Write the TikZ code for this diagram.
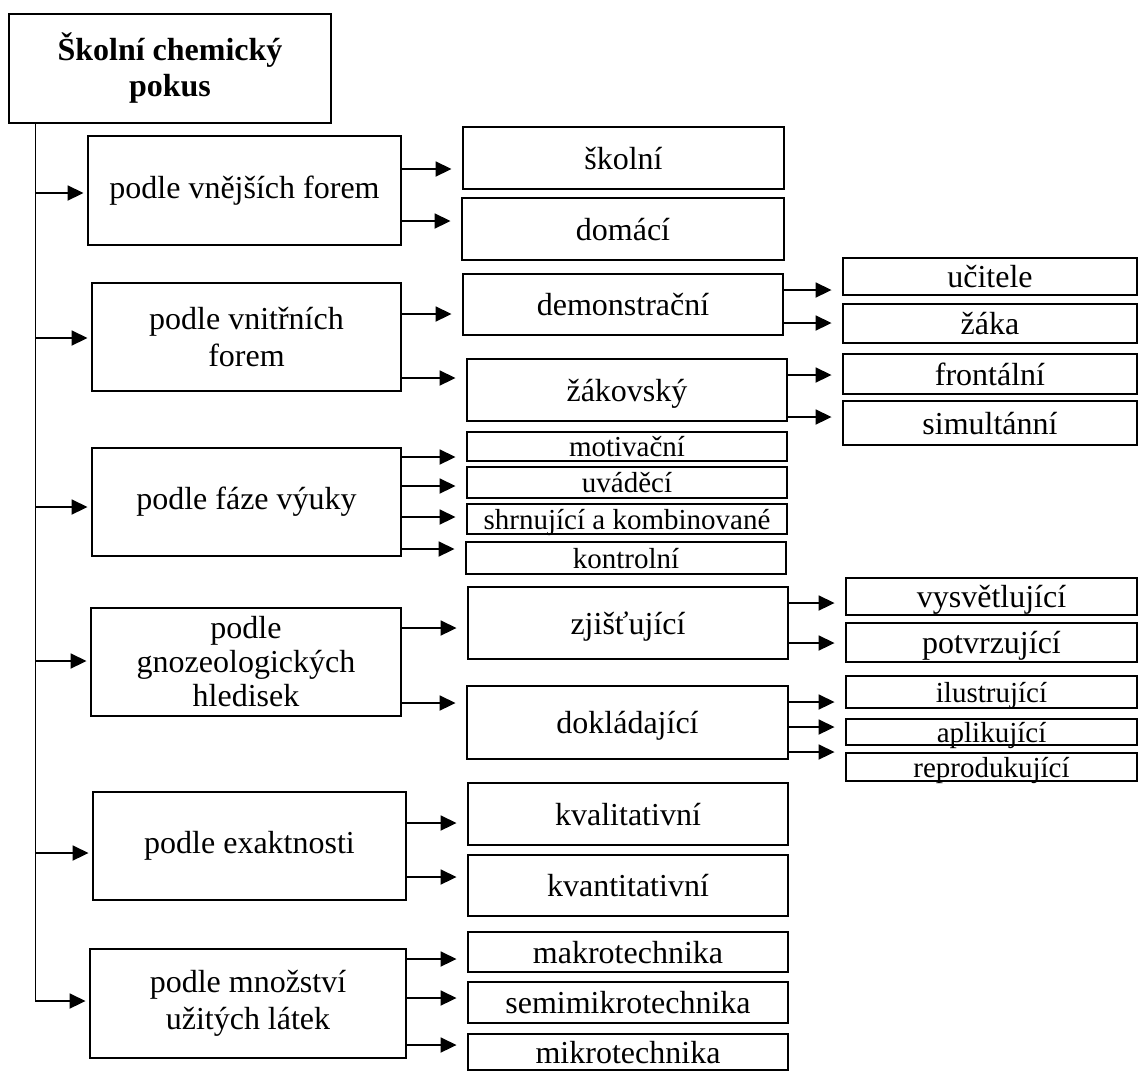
\documentclass[tikz,border=0pt]{standalone}
\usepackage{fontspec}
\setmainfont{Liberation Serif}
\usetikzlibrary{arrows.meta}

\begin{document}
\begin{tikzpicture}[
    x=1pt, y=-1pt,
    box/.style={draw, line width=2.9pt, inner sep=0pt, align=center, font=\fontsize{32}{37}\selectfont},
    leaf/.style={box, text height=22pt, text depth=0pt},
    small/.style={leaf, text height=20pt, font=\fontsize{29}{34}\selectfont},
    link/.style={line width=1.8pt},
    arr/.style={link, -{Triangle[length=16pt,width=15pt]}, shorten >=10pt}
  ]
    \useasboundingbox (0,0) rectangle (1139,1072);

    % root and first level
    \node[box, font=\fontsize{32}{36}\selectfont\bfseries, minimum width=322pt, minimum height=109pt] (root) at (170,68.5) {Školní chemický\\pokus};
    \node[box, minimum width=313pt, minimum height=109pt] (vnejsi) at (244.5,190.5) {podle vnějších forem};
    \node[box, minimum width=309pt, minimum height=108pt] (vnitrni) at (246.5,337) {podle vnitřních\\forem};
    \node[box, minimum width=309pt, minimum height=108pt] (faze) at (246.5,502) {podle fáze výuky};
    \node[box, font=\fontsize{32}{34}\selectfont, minimum width=310pt, minimum height=108pt] (gnoz) at (246,662) {podle\\gnozeologických\\hledisek};
    \node[box, minimum width=313pt, minimum height=108pt] (exakt) at (249.5,846) {podle exaktnosti};
    \node[box, minimum width=316pt, minimum height=109pt] (mnozstvi) at (248,1003.5) {podle množství\\užitých látek};

    % second level
    \node[leaf, minimum width=321pt, minimum height=62pt] (skolni) at (623.5,158) {školní};
    \node[leaf, minimum width=322pt, minimum height=62pt] (domaci) at (623,229) {domácí};
    \node[leaf, minimum width=320pt, minimum height=61pt] (demo) at (623,304.5) {demonstrační};
    \node[leaf, minimum width=320pt, minimum height=62pt] (zakovsky) at (627,390) {žákovský};
    \node[small, minimum width=320pt, minimum height=29pt] (motiv) at (627,446.5) {motivační};
    \node[small, minimum width=320pt, minimum height=31pt] (uvadeci) at (627,482.5) {uváděcí};
    \node[small, minimum width=320pt, minimum height=30pt] (shrn) at (627,519) {shrnující a kombinované};
    \node[small, minimum width=320pt, minimum height=32pt] (kontrol) at (626,558) {kontrolní};
    \node[leaf, minimum width=320pt, minimum height=72pt] (zjist) at (628,623) {zjišťující};
    \node[leaf, minimum width=321pt, minimum height=73pt] (doklad) at (627.5,722.5) {dokládající};
    \node[leaf, minimum width=320pt, minimum height=62pt] (kval) at (628,814) {kvalitativní};
    \node[leaf, minimum width=320pt, minimum height=61pt] (kvant) at (628,885.5) {kvantitativní};
    \node[leaf, minimum width=320pt, minimum height=40pt] (makro) at (628,952) {makrotechnika};
    \node[leaf, minimum width=320pt, minimum height=41pt] (semi) at (628,1002.5) {semimikrotechnika};
    \node[leaf, minimum width=320pt, minimum height=36pt] (mikro) at (628,1052) {mikrotechnika};

    % third level
    \node[leaf, minimum width=294pt, minimum height=37pt] (ucitel) at (990,276.5) {učitele};
    \node[leaf, minimum width=294pt, minimum height=39pt] (zak) at (990,323.5) {žáka};
    \node[leaf, minimum width=294pt, minimum height=40pt] (front) at (990,374) {frontální};
    \node[leaf, minimum width=294pt, minimum height=44pt] (simult) at (990,423) {simultánní};
    \node[leaf, minimum width=291pt, minimum height=37pt] (vysv) at (991.5,596.5) {vysvětlující};
    \node[leaf, minimum width=291pt, minimum height=39pt] (potvrz) at (991.5,642.5) {potvrzující};
    \node[small, minimum width=291pt, minimum height=32pt] (ilustr) at (991.5,692) {ilustrující};
    \node[small, minimum width=291pt, minimum height=26pt] (aplik) at (991.5,732) {aplikující};
    \node[small, minimum width=291pt, minimum height=28pt] (reprod) at (991.5,767) {reprodukující};

    % trunk
    \coordinate (trunk) at ([xshift=28pt]root.south west);
    \draw[arr, shorten >=3pt] (trunk) |- (mnozstvi.west |- 0,1001);
    \draw[arr, shorten >=3pt] (trunk |- 0,193) -- (vnejsi.west |- 0,193);
    \draw[arr, shorten >=3pt] (trunk |- 0,338) -- (vnitrni.west |- 0,338);
    \draw[arr, shorten >=3pt] (trunk |- 0,507) -- (faze.west |- 0,507);
    \draw[arr, shorten >=3pt] (trunk |- 0,661) -- (gnoz.west |- 0,661);
    \draw[arr, shorten >=3pt] (trunk |- 0,853) -- (exakt.west |- 0,853);

    % first to second level
    \draw[arr] (vnejsi.east |- 0,169) -- (skolni.west |- 0,169);
    \draw[arr] (vnejsi.east |- 0,221) -- (domaci.west |- 0,221);
    \draw[arr] (vnitrni.east |- 0,314) -- (demo.west |- 0,314);
    \draw[arr] (vnitrni.east |- 0,378) -- (zakovsky.west |- 0,378);
    \draw[arr] (faze.east |- 0,457) -- (motiv.west |- 0,457);
    \draw[arr] (faze.east |- 0,486) -- (uvadeci.west |- 0,486);
    \draw[arr] (faze.east |- 0,517) -- (shrn.west |- 0,517);
    \draw[arr] (faze.east |- 0,549) -- (kontrol.west |- 0,549);
    \draw[arr] (gnoz.east |- 0,628) -- (zjist.west |- 0,628);
    \draw[arr] (gnoz.east |- 0,703) -- (doklad.west |- 0,703);
    \draw[arr] (exakt.east |- 0,823) -- (kval.west |- 0,823);
    \draw[arr] (exakt.east |- 0,877) -- (kvant.west |- 0,877);
    \draw[arr] (mnozstvi.east |- 0,959) -- (makro.west |- 0,959);
    \draw[arr] (mnozstvi.east |- 0,998) -- (semi.west |- 0,998);
    \draw[arr] (mnozstvi.east |- 0,1045) -- (mikro.west |- 0,1045);

    % second to third level
    \draw[arr] (demo.east |- 0,290) -- (ucitel.west |- 0,290);
    \draw[arr] (demo.east |- 0,323) -- (zak.west |- 0,323);
    \draw[arr] (zakovsky.east |- 0,375) -- (front.west |- 0,375);
    \draw[arr] (zakovsky.east |- 0,417) -- (simult.west |- 0,417);
    \draw[arr] (zjist.east |- 0,603) -- (vysv.west |- 0,603);
    \draw[arr] (zjist.east |- 0,643) -- (potvrz.west |- 0,643);
    \draw[arr] (doklad.east |- 0,702) -- (ilustr.west |- 0,702);
    \draw[arr] (doklad.east |- 0,727) -- (aplik.west |- 0,727);
    \draw[arr] (doklad.east |- 0,752) -- (reprod.west |- 0,752);
  \end{tikzpicture}
\end{document}
